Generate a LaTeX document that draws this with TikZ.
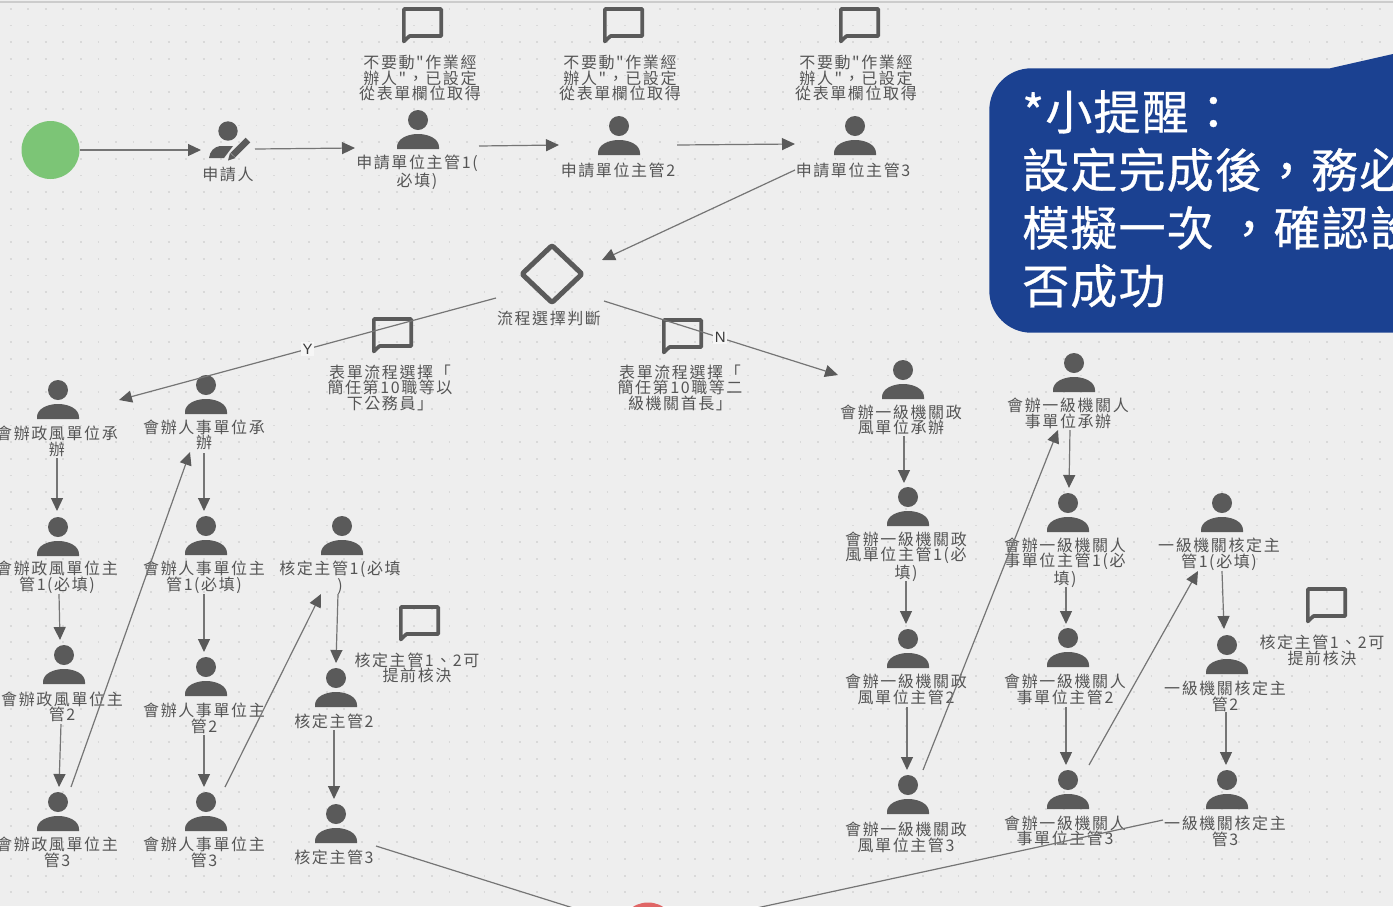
\documentclass[tikz,border=0pt]{standalone}
\usepackage{fontspec}
\usetikzlibrary{arrows.meta}
\newfontfamily\lblfont[LetterSpace=10]{Noto Sans CJK TC}
\newfontfamily\tipfont[LetterSpace=2.5,FakeBold=0.6]{Noto Sans CJK TC}
\newfontfamily\edgefont{Liberation Sans}
\definecolor{bgc}{HTML}{EEEEEE}
\definecolor{dotc}{HTML}{D9D9D9}
\definecolor{iconc}{HTML}{5A5A5A}
\definecolor{linec}{HTML}{757575}
\definecolor{txtc}{HTML}{555555}
\definecolor{boxc}{HTML}{1B4191}
\definecolor{startc}{HTML}{7CC576}
\definecolor{endc}{HTML}{E06666}
\tikzset{
  lbl/.style={inner sep=0pt,yshift=-1pt,align=center,text=txtc,font=\lblfont\fontsize{16}{15.5}\selectfont},
  iconbox/.style={minimum width=44pt,minimum height=42pt,inner sep=0pt},
  flow/.style={draw=linec,line width=1.2pt,-{Triangle[length=13pt,width=12pt,fill=iconc,color=iconc]}},
  edgelabel/.style={inner sep=1.5pt,fill=bgc!50!white,text=txtc!70!black,font=\edgefont\fontsize{15}{15}\selectfont},
  bubble/.style={draw=iconc,line width=3.6pt,line join=round},
  dotrow/.style={draw=dotc,line width=1.8pt,dash pattern=on 1.8pt off 15.75pt},
}
% name, head x, head y, label x, label y, label
\newcommand{\person}[6]{%
  \node[iconbox] (#1) at (#2,#3+9) {};
  \fill[iconc,shift={(#2,#3)}] (0,0) circle[radius=10];
  \fill[iconc,shift={(#2,#3)}] (-21,29) -- (21,29) -- (21,27) .. controls (21,19) and (11,14) .. (0,14) .. controls (-11,14) and (-21,19) .. (-21,27) -- cycle;
  \node[lbl] (#1-l) at (#4,#5) {#6};
}
% name, left, top, text x, text y, text
\newcommand{\comment}[6]{%
  \node[minimum width=41pt,minimum height=37pt,inner sep=0pt] (#1) at (#2+20.5,#3+18.5) {};
  \draw[bubble,shift={(#2,#3)}] (1.8,2) -- (39.2,2) -- (39.2,29) -- (7.5,29) -- (1.8,34.5) -- cycle;
  \node[lbl] (#1-l) at (#4,#5) {#6};
}
\newcommand{\flow}[6]{\draw[flow] ([shift={(#2,#3)}]#1.center) -- ([shift={(#5,#6)}]#4.center);}
\begin{document}
\begin{tikzpicture}[x=1pt,y=-1pt]
\useasboundingbox (0,0) rectangle (1393,906);
\clip (0,0) rectangle (1393,906);
\fill[bgc] (0,0) rectangle (1393,906);
\foreach \j in {0,...,54} { \draw[dotrow] (9.8,{8.8+16.67*\j}) -- (1393,{8.8+16.67*\j}); }
\draw[black!20,line width=1.5pt] (0,2) -- (1393,2);

% start and end
\node[circle,fill=startc,minimum size=58pt,inner sep=0pt] (start) at (50.5,150) {};
\node[circle,fill=endc,minimum size=58pt,inner sep=0pt] (end) at (648,931.5) {};

% applicant
\node[iconbox] (app) at (228,145) {};
\fill[iconc] (228,131) circle[radius=9.7];
\fill[iconc] (209,158) .. controls (210,151) and (214,147) .. (220,146) -- (233,146) -- (224,158) -- cycle;
\draw[iconc,line width=6.5pt] (248,140) -- (233,155);
\fill[iconc] (230,153) -- (235.5,158) -- (228,160.5) -- cycle;
\node[lbl] (app-l) at (228,174) {申請人};

% top row
\person{p1}{418}{120}{417}{171.5}{申請單位主管1(\\必填)}
\person{p2}{619}{126}{618}{169}{申請單位主管2}
\person{p3}{855}{126}{853}{169}{申請單位主管3}
\comment{c1}{402}{7}{420}{77}{不要動"作業經\\辦人"，已設定\\從表單欄位取得}
\comment{c2}{603}{7}{620}{77}{不要動"作業經\\辦人"，已設定\\從表單欄位取得}
\comment{c3}{839}{7}{856}{77}{不要動"作業經\\辦人"，已設定\\從表單欄位取得}

% gateway
\node[minimum width=64pt,minimum height=61pt,inner sep=0pt] (gate) at (552,274) {};
\draw[iconc,line width=5pt,line join=round,rounded corners=2pt] (552,245.5) -- (582,274) -- (552,302.5) -- (522,274) -- cycle;
\node[lbl] (gate-l) at (549,317) {流程選擇判斷};
\comment{cy}{372}{317}{390}{386.5}{表單流程選擇「\\簡任第10職等以\\下公務員」}
\comment{cn}{662}{318}{680}{386.5}{表單流程選擇「\\簡任第10職等二\\級機關首長」}

% left branch
\person{a0}{58}{390}{57}{440.5}{會辦政風單位承\\辦}
\person{a1}{58}{527}{57}{576.5}{會辦政風單位主\\管1(必填)}
\person{a2}{64}{655}{62}{706}{會辦政風單位主\\管2}
\person{a3}{58}{802}{57}{851.5}{會辦政風單位主\\管3}
\person{b0}{206}{385}{204}{434}{會辦人事單位承\\辦}
\person{b1}{206}{526}{204}{576.5}{會辦人事單位主\\管1(必填)}
\person{b2}{206}{667}{204}{717.5}{會辦人事單位主\\管2}
\person{b3}{206}{802}{204}{851.5}{會辦人事單位主\\管3}
\person{k1}{342}{526}{340}{576.5}{核定主管1(必填\\)}
\person{k2}{336}{678}{334}{720}{核定主管2}
\person{k3}{336}{814}{334}{856}{核定主管3}
\comment{cc}{399}{605}{417}{667}{核定主管1、2可\\提前核決}

% right branch
\person{d0}{903}{370}{901}{419}{會辦一級機關政\\風單位承辦}
\person{d1}{908}{497}{906}{555.5}{會辦一級機關政\\風單位主管1(必\\填)}
\person{d2}{908}{639}{906}{688.5}{會辦一級機關政\\風單位主管2}
\person{d3}{908}{785}{906}{836.5}{會辦一級機關政\\風單位主管3}
\person{e0}{1074}{363}{1068}{412.5}{會辦一級機關人\\事單位承辦}
\person{e1}{1068}{503}{1065}{561.5}{會辦一級機關人\\事單位主管1(必\\填)}
\person{e2}{1068}{638}{1065}{688.5}{會辦一級機關人\\事單位主管2}
\person{e3}{1068}{780}{1065}{830}{會辦一級機關人\\事單位主管3}
\person{f1}{1222}{503}{1219}{553.5}{一級機關核定主\\管1(必填)}
\person{f2}{1227}{645}{1225}{695.5}{一級機關核定主\\管2}
\person{f3}{1227}{780}{1225}{830.5}{一級機關核定主\\管3}
\comment{cf}{1306}{587}{1322}{649.5}{核定主管1、2可\\提前核決}

% connectors
\flow{start}{29.5}{0}{app}{-27}{5}
\flow{app}{27}{4}{p1}{-63}{19}
\flow{p1}{61}{17}{p2}{-60}{10}
\flow{p2}{58}{10}{p3}{-60}{9}
\flow{p3}{-60}{35}{gate}{50}{-14}
\draw[flow] ([shift={(-56,24)}]gate.center) -- node[edgelabel,pos=0.5] (ylab) {Y} ([shift={(61,1)}]a0.center);
\draw[flow] ([shift={(52,27)}]gate.center) -- node[edgelabel,pos=0.497] (nlab) {N} ([shift={(-65,-4)}]d0.center);
\flow{a0}{-1}{59}{a1}{-1}{-25}
\flow{a1}{1}{58}{a2}{-4}{-24}
\flow{a2}{-3}{60}{a3}{1}{-24}
\flow{a3}{13}{-24}{b0}{-16}{58}
\flow{b0}{-2}{59}{b1}{-2}{-24}
\flow{b1}{-2}{59}{b2}{-2}{-24}
\flow{b2}{-2}{59}{b3}{-2}{-24}
\flow{b3}{19}{-24}{k1}{-21}{59}
\flow{k1}{-4}{59}{k2}{0}{-24}
\flow{k2}{-2}{43}{k3}{-2}{-24}
\flow{k3}{40}{23}{end}{0}{0}
\flow{f3}{-64}{31}{end}{0}{0}
\flow{d0}{1}{57}{d1}{-4}{-23}
\flow{d1}{-2}{75}{d2}{-2}{-24}
\flow{d2}{-1}{59}{d3}{-1}{-24}
\flow{d3}{15}{-24}{e0}{-16}{58}
\flow{e0}{-4}{58}{e1}{1}{-24}
\flow{e1}{-2}{75}{e2}{-2}{-23}
\flow{e2}{-2}{60}{e3}{-2}{-24}
\flow{e3}{21}{-24}{f1}{-24}{59}
\flow{f1}{0}{59}{f2}{-3}{-25}
\flow{f2}{-1}{58}{f3}{-1}{-24}

% reminder box
\fill[boxc] (1400,332.7) [rounded corners=42pt] -- (989.3,332.7) -- (989.3,68.3) [sharp corners] -- (1330,68.3) -- (1393,54) -- (1400,54) -- cycle;
\node[inner sep=0pt,anchor=north west,align=left,text=white,font=\tipfont\fontsize{47}{58}\selectfont] (tip) at (1022,90) {*小提醒：\\設定完成後，務必\\模擬一次 ，確認設\\否成功};
\end{tikzpicture}
\end{document}
